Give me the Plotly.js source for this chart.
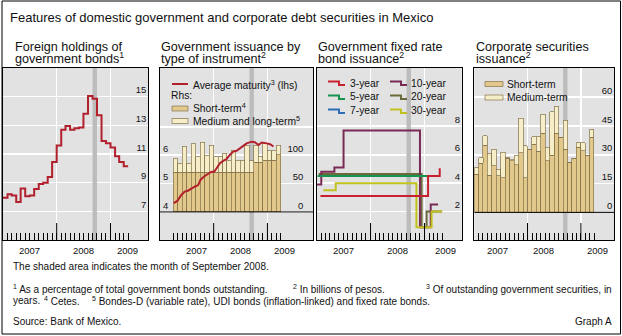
<!DOCTYPE html>
<html><head><meta charset="utf-8">
<script src="https://cdn.plot.ly/plotly-3.0.1.min.js"></script>
<style>html,body{margin:0;padding:0;background:#fff}#chart{width:622px;height:336px}</style>
</head><body><div id="chart"></div>
<script>
// ---------- DATA ----------
// Panel 1: foreign holdings of government bonds (% of total outstanding), monthly
const holdingsMonths = ['2007-01','2007-02','2007-03','2007-04','2007-05','2007-06','2007-07','2007-08','2007-09','2007-10','2007-11','2007-12',
  '2008-01','2008-02','2008-03','2008-04','2008-05','2008-06','2008-07','2008-08','2008-09','2008-10','2008-11','2008-12',
  '2009-01','2009-02','2009-03','2009-04'];
const holdingsShare = [7.95,8.2,8.1,7.65,8.6,8.05,8.1,8.55,8.9,9.0,9.4,10.45,
  11.6,12.7,12.95,12.7,12.8,12.85,13.8,15.05,14.85,13.7,11.9,11.75,
  11.45,10.85,10.45,10.15];

// Panel 2: government issuance by type of instrument (billions of pesos), monthly
const issuanceMonths = ['2007-04','2007-05','2007-06','2007-07','2007-08','2007-09','2007-10','2007-11','2007-12',
  '2008-01','2008-02','2008-03','2008-04','2008-05','2008-06','2008-07','2008-08','2008-09','2008-10','2008-11','2008-12',
  '2009-01','2009-02','2009-03'];
const cetesIssuance  = [70,70,70,70,70,70,70,70,70,70,70,70,70,70,70,70,70,70,88,88,91,91,91,101];
const longerIssuance = [24,16,46,16,50,27,53,30,48,27,27,34,20,39,21,21,48,20,30,10,30,17,17,17];
// Average maturity of outstanding government securities (years, lhs)
const maturityDates = ['2007-04-04','2007-04-29','2007-05-26','2007-06-18','2007-07-10','2007-08-03','2007-08-25','2007-09-18','2007-10-03','2007-10-28',
  '2007-11-25','2007-12-17','2008-01-05','2008-01-21','2008-02-13','2008-03-06','2008-03-28','2008-04-20','2008-05-13','2008-06-05',
  '2008-06-28','2008-07-20','2008-08-12','2008-09-16','2008-10-08','2008-11-01','2008-11-23','2008-12-28','2009-01-19','2009-02-11'];
const maturityYears = [4.31,4.39,4.6,4.72,4.75,4.83,4.89,4.95,5.13,5.25,5.36,5.42,5.42,5.54,5.72,5.8,5.86,6.01,6.13,6.16,
  6.25,6.36,6.42,6.48,6.46,6.36,6.45,6.42,6.39,6.31];

// Panel 3: government fixed rate bond issuance (billions of pesos), step series
const bond3yDates  = ['2007-01-26','2009-01-25','2009-04-14'];
const bond3yValues = [3.1,4.5,5.05];
const bond5yDates  = ['2007-01-07','2009-01-25'];
const bond5yValues = [4.5,4.5];
const bond10yDates  = ['2007-01-01','2007-02-01','2007-05-01','2007-07-02','2008-12-01','2009-02-12','2009-04-03'];
const bond10yValues = [3.9,4.8,5.1,7.7,0.9,2.5,2.5];
const bond20yDates  = ['2007-01-14','2008-12-12','2009-01-15','2009-04-30'];
const bond20yValues = [4.65,0.9,2.0,2.0];
const bond30yDates  = ['2007-02-15','2007-05-10','2008-11-07','2009-02-18','2009-04-30'];
const bond30yValues = [3.5,4.0,0.9,2.0,2.0];

// Panel 4: corporate securities issuance (billions of pesos), monthly
const corpMonths = ['2007-01','2007-02','2007-03','2007-04','2007-05','2007-06','2007-07','2007-08','2007-09','2007-10','2007-11','2007-12',
  '2008-01','2008-02','2008-03','2008-04','2008-05','2008-06','2008-07','2008-08','2008-09','2008-10','2008-11','2008-12',
  '2009-01','2009-02','2009-03'];
const corpShort  = [19.9,25.5,35,19.4,24.3,19.1,18,28.1,26.9,24.8,31,18,32.9,35.5,31.9,41.1,26.9,29.8,41.1,39,32.9,26,28.1,33.8,32,29.8,39];
const corpMedium = [3.3,2.9,4.9,11.3,8.5,3.3,13.4,0.3,0.7,4.8,17.9,16.7,0,3.8,7.4,9.9,6.9,22.5,14.2,0,15.1,0,0,2.4,4.2,0,4.3];

// Axis labels, ticks and ranges
const yearLabels = ['2007','2008','2009'];
const yearBounds = ['2008-01-01','2009-01-01'];
const shadedMonth = ['2008-09-01','2008-10-01'];
const p1LabelPos = ['2007-07-01','2008-07-01','2009-04-25'];
const p2LabelPos = ['2007-09-07','2008-07-04','2009-04-25'];
const p3LabelPos = ['2007-07-01','2008-07-01','2009-05-20'];
const p4LabelPos = ['2007-06-10','2008-04-21','2009-04-27'];
const p1Ticks = [7,9,11,13,15];
const p2RhsTicks = [0,50,100,150], p2RhsText = ['0','50','100',''];
const p2LhsTicks = [4,5,6];
const p3Ticks = [2,4,6,8];
const p4Ticks = [0,15,30,45,60];
const y1Range = [5, 17], y2Range = [-49.5, 254], y3Range = [3.01, 9.08], y4Range = [0, 12.1], y5Range = [-14.4, 75.2];
const r1 = ['2007-01-01', '2009-09-13'];
const r2 = ['2007-01-01', '2009-11-07'];
const r3 = ['2007-01-01', '2009-09-10'];
const r4 = ['2007-01-01', '2009-08-16'];

// ---------- STYLE / GEOMETRY ----------
const FONT = 'Liberation Sans, Arial, Helvetica, sans-serif';
const W = 622, H = 336;
const px = v => v / W, py = v => 1 - v / H;
const PLOT_H = 172, TALL_TICK = 17;
const RED = '#B21F2D', SHORT = '#E2C98B', MEDIUM = '#F6EDC9', EDGE = '#85734A';
const C3 = '#C8202E', C5 = '#149450', C7 = '#2E6CB5', C10 = '#7A2B55', C20 = '#6A6A3C', C30 = '#C2C21E';
const BG = '#E2E2E2', BAND = '#BCBCBC', GRID = '#FFFFFF', GRID_W = 1.6;
const yDom = [py(240), py(68)];
const tickFont = {family: FONT, size: 9.5, color: '#111'};

function nextMonth(m) { const [y, mo] = m.split('-').map(Number); return new Date(Date.UTC(y, mo, 1)).toISOString().slice(0, 7); }
function monthStarts(list) { return list.map(m => m + '-01').concat([nextMonth(list[list.length - 1]) + '-01']); }
const MONTH_MS = 30.44 * 864e5;

function xAxis(dom, range, anchor, minorVals) {
  return {domain: dom, range: range, type: 'date', anchor: anchor, tickmode: 'array', tickvals: yearBounds,
    ticks: '', showticklabels: false, showgrid: true, gridcolor: GRID, gridwidth: GRID_W,
    showline: true, linecolor: '#000', linewidth: 1, mirror: true, zeroline: false, fixedrange: true,
    minor: {tickmode: 'array', tickvals: minorVals, ticks: 'inside', ticklen: 7, tickwidth: 1, tickcolor: '#000', showgrid: false}};
}
function yAxis(anchor, side, range, tickvals, ticktext, extra) {
  return Object.assign({domain: yDom, anchor: anchor, side: side, range: range, tickmode: 'array', tickvals: tickvals,
    ticktext: ticktext || tickvals.map(String), ticks: '', ticklabelposition: 'inside top', tickfont: tickFont,
    showgrid: true, gridcolor: GRID, gridwidth: GRID_W, showline: true, linecolor: '#000', linewidth: 1, mirror: true,
    zeroline: false, fixedrange: true}, extra || {});
}

// ---------- TRACES ----------
const traces = [];
const p1x = monthStarts(holdingsMonths);
const p1y = holdingsShare.concat([holdingsShare[holdingsShare.length - 1]]);
traces.push({type: 'scatter', mode: 'lines', x: p1x, y: p1y, xaxis: 'x', yaxis: 'y',
  line: {shape: 'hv', color: RED, width: 2}, name: 'Foreign holdings'});
traces.push({type: 'bar', x: issuanceMonths, y: cetesIssuance, xaxis: 'x2', yaxis: 'y2', xperiod: 'M1', xperiodalignment: 'middle',
  width: MONTH_MS, marker: {color: SHORT, line: {color: EDGE, width: 0.7}}, name: 'Short-term'});
traces.push({type: 'bar', x: issuanceMonths, y: longerIssuance, xaxis: 'x2', yaxis: 'y2', xperiod: 'M1', xperiodalignment: 'middle',
  width: MONTH_MS, marker: {color: MEDIUM, line: {color: EDGE, width: 0.7}}, name: 'Medium and long-term'});
traces.push({type: 'scatter', mode: 'lines', x: maturityDates, y: maturityYears, xaxis: 'x2', yaxis: 'y3',
  line: {color: RED, width: 2}, name: 'Average maturity'});
[[bond20yDates, bond20yValues, C20, '20-year'], [bond10yDates, bond10yValues, C10, '10-year'],
 [bond30yDates, bond30yValues, C30, '30-year'], [bond5yDates, bond5yValues, C5, '5-year'],
 [bond3yDates, bond3yValues, C3, '3-year']].forEach(s => {
  traces.push({type: 'scatter', mode: 'lines', x: s[0], y: s[1], xaxis: 'x3', yaxis: 'y4',
    line: {shape: 'hv', color: s[2], width: 2}, name: s[3]});
});
traces.push({type: 'bar', x: corpMonths, y: corpShort, xaxis: 'x4', yaxis: 'y5', xperiod: 'M1', xperiodalignment: 'middle',
  width: MONTH_MS, marker: {color: SHORT, line: {color: EDGE, width: 0.7}}, name: 'Short-term'});
traces.push({type: 'bar', x: corpMonths, y: corpMedium, xaxis: 'x4', yaxis: 'y5', xperiod: 'M1', xperiodalignment: 'middle',
  width: MONTH_MS, marker: {color: MEDIUM, line: {color: EDGE, width: 0.7}}, name: 'Medium-term'});

// ---------- SHAPES ----------
const shapes = [];
const panels = [
  {xr: 'x', yr: 'y', xRange: r1, yRange: y1Range, zero: false},
  {xr: 'x2', yr: 'y2', xRange: r2, yRange: y2Range, zero: true},
  {xr: 'x3', yr: 'y4', xRange: r3, yRange: y4Range, zero: false},
  {xr: 'x4', yr: 'y5', xRange: r4, yRange: y5Range, zero: true}
];
panels.forEach(p => {
  shapes.push({type: 'rect', xref: p.xr, yref: p.yr, x0: shadedMonth[0], x1: shadedMonth[1], y0: p.yRange[0], y1: p.yRange[1],
    fillcolor: BAND, line: {width: 0}, layer: 'between'});
  const tickTop = p.yRange[0] + (p.yRange[1] - p.yRange[0]) * TALL_TICK / PLOT_H;
  yearBounds.forEach(d => shapes.push({type: 'line', xref: p.xr, yref: p.yr, x0: d, x1: d, y0: p.yRange[0], y1: tickTop,
    line: {color: '#000', width: 1}, layer: 'above'}));
  if (p.zero) shapes.push({type: 'line', xref: p.xr, yref: p.yr, x0: p.xRange[0], x1: p.xRange[1], y0: 0, y1: 0,
    line: {color: '#000', width: 1}, layer: 'above'});
});
function pLine(x0, x1, y, color) { return {type: 'line', xref: 'paper', yref: 'paper', x0: px(x0), x1: px(x1), y0: py(y), y1: py(y), line: {color: color, width: 2}, layer: 'above'}; }
function pBox(x0, x1, y0, y1, color) { return {type: 'rect', xref: 'paper', yref: 'paper', x0: px(x0), x1: px(x1), y0: py(y1), y1: py(y0), fillcolor: color, line: {color: EDGE, width: 0.7}, layer: 'above'}; }
function pStep(x0, y, color) {
  return {type: 'path', xref: 'paper', yref: 'paper', line: {color: color, width: 2}, layer: 'above',
    path: 'M' + px(x0) + ',' + py(y - 1.5) + ' H' + px(x0 + 11) + ' V' + py(y + 2) + ' H' + px(x0 + 17)};
}
shapes.push(pLine(172, 188, 84, RED));
shapes.push(pBox(172, 188, 106, 111, SHORT));
shapes.push(pBox(172, 188, 118.5, 123.5, MEDIUM));
shapes.push(pStep(328, 83, C3), pStep(328, 97, C5), pStep(328, 111, C7));
shapes.push(pStep(390, 83, C10), pStep(390, 97, C20), pStep(390, 111, C30));
shapes.push(pBox(485, 503, 81.5, 86.5, SHORT));
shapes.push(pBox(485, 503, 95, 100, MEDIUM));
shapes.push({type: 'rect', xref: 'paper', yref: 'paper', x0: px(2), x1: px(620.5), y0: py(334), y1: py(1),
  line: {color: '#000', width: 1}, fillcolor: 'rgba(0,0,0,0)', layer: 'above'});

// ---------- ANNOTATIONS ----------
function txt(x, y, text, size, anchor) {
  return {xref: 'paper', yref: 'paper', x: px(x), y: py(y), text: text, showarrow: false, xanchor: anchor || 'left',
    yanchor: 'middle', borderpad: 0, font: {family: FONT, size: size, color: '#111'}};
}
function yearAnn(xref, pos) {
  return yearLabels.map((t, i) => ({xref: xref, yref: 'paper', x: pos[i], y: py(250.5), text: t, showarrow: false,
    xanchor: 'center', yanchor: 'middle', borderpad: 0, font: tickFont}));
}
const annotations = [
  txt(9, 17, 'Features of domestic government and corporate debt securities in Mexico', 13),
  txt(14, 46.5, 'Foreign holdings of', 12.6), txt(14, 58, 'government bonds<sup>1</sup>', 12.6),
  txt(160, 46.5, 'Government issuance by', 12.6), txt(160, 58, 'type of instrument<sup>2</sup>', 12.6),
  txt(317, 46.5, 'Government fixed rate', 12.6), txt(317, 58, 'bond issuance<sup>2</sup>', 12.6),
  txt(474.5, 46.5, 'Corporate securities', 12.6), txt(474.5, 58, 'issuance<sup>2</sup>', 12.6),
  txt(192, 84, 'Average maturity<sup>3</sup> (lhs)', 10.3), txt(170, 95.5, 'Rhs:', 10.3),
  txt(192, 108, 'Short-term<sup>4</sup>', 10.3), txt(192, 120.5, 'Medium and long-term<sup>5</sup>', 10.3),
  txt(349, 83, '3-year', 10.3), txt(349, 97, '5-year', 10.3), txt(349, 111, '7-year', 10.3),
  txt(410, 83, '10-year', 10.3), txt(410, 97, '20-year', 10.3), txt(410, 111, '30-year', 10.3),
  txt(506, 84, 'Short-term', 10.3), txt(506, 97.5, 'Medium-term', 10.3),
  txt(12, 266.5, 'The shaded area indicates the month of September 2008.', 10),
  txt(12, 288.5, '<sup>1</sup> As a percentage of total government bonds outstanding.', 10),
  txt(292, 288.5, '<sup>2</sup> In billions of pesos.', 10),
  txt(613, 288.5, '<sup>3</sup> Of outstanding government securities, in', 10, 'right'),
  txt(12, 300.5, 'years.', 10),
  txt(43, 300.5, '<sup>4</sup> Cetes.', 10),
  txt(91, 300.5, '<sup>5</sup> Bondes-D (variable rate), UDI bonds (inflation-linked) and fixed rate bonds.', 10),
  txt(12, 321.5, 'Source: Bank of Mexico.', 10),
  txt(613, 321.5, 'Graph A', 10, 'right')
].concat(yearAnn('x', p1LabelPos), yearAnn('x2', p2LabelPos), yearAnn('x3', p3LabelPos), yearAnn('x4', p4LabelPos));

// ---------- LAYOUT ----------
const layout = {
  width: W, height: H, margin: {l: 0, r: 0, t: 0, b: 0, pad: 0},
  paper_bgcolor: '#fff', plot_bgcolor: BG, showlegend: false,
  barmode: 'stack', bargap: 0,
  font: {family: FONT, size: 10, color: '#111'},
  xaxis: xAxis([px(3), px(148)], r1, 'y', monthStarts(holdingsMonths).slice(1)),
  yaxis: yAxis('x', 'right', y1Range, p1Ticks),
  xaxis2: xAxis([px(160), px(313)], r2, 'y2', monthStarts(issuanceMonths)),
  yaxis2: yAxis('x2', 'right', y2Range, p2RhsTicks, p2RhsText, {ticklabelstandoff: 8}),
  yaxis3: {overlaying: 'y2', anchor: 'x2', side: 'left', range: y3Range, tickmode: 'array', tickvals: p2LhsTicks,
    ticks: '', ticklabelposition: 'inside top', tickfont: tickFont, showgrid: false, showline: false, zeroline: false, fixedrange: true},
  xaxis3: xAxis([px(316.7), px(461.7)], r3, 'y4', monthStarts(holdingsMonths).slice(1)),
  yaxis4: yAxis('x3', 'right', y4Range, p3Ticks),
  xaxis4: xAxis([px(474.3), px(614)], r4, 'y5', monthStarts(corpMonths).slice(1)),
  yaxis5: yAxis('x4', 'right', y5Range, p4Ticks),
  shapes: shapes, annotations: annotations
};

Plotly.newPlot('chart', traces, layout, {displayModeBar: false, staticPlot: true});
</script>
</body></html>
